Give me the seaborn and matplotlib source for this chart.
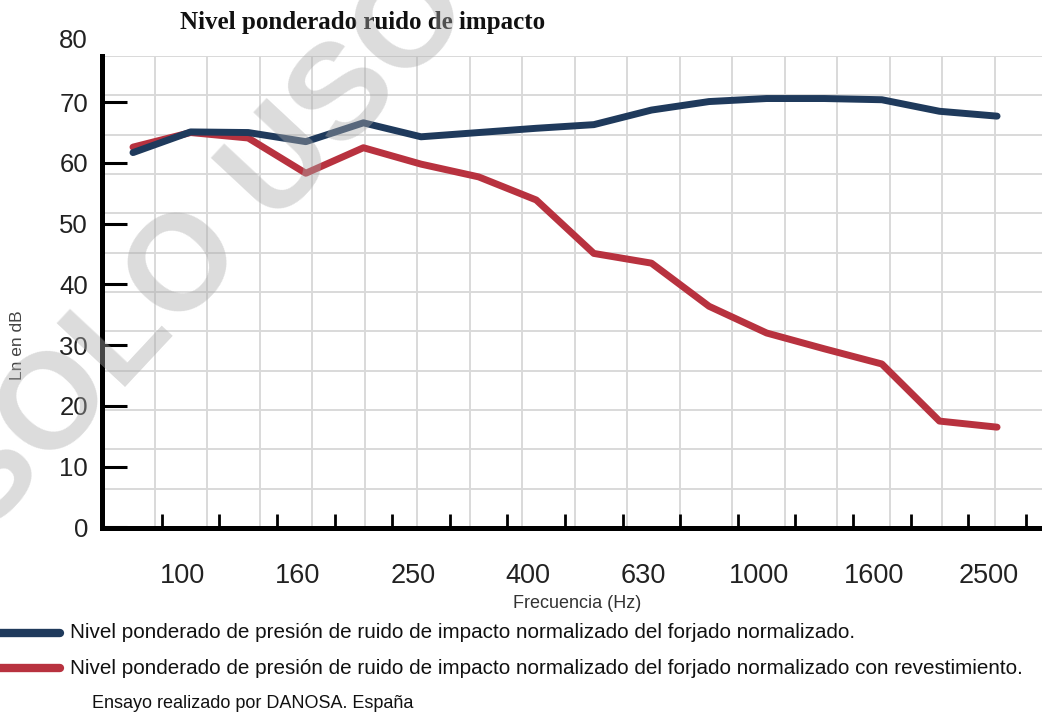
import numpy as np
import pandas as pd
import matplotlib
matplotlib.use("Agg")
import matplotlib.pyplot as plt
import seaborn as sns
from matplotlib.lines import Line2D
from matplotlib.transforms import ScaledTranslation

# bandas de tercio de octava (Hz)
frecuencias = ["80", "100", "125", "160", "200", "250", "315", "400",
               "500", "630", "800", "1000", "1250", "1600", "2000", "2500"]
forjado = [61.7, 65.1, 65.0, 63.5, 66.6, 64.3, 65.0, 65.7,
           66.3, 68.7, 70.1, 70.6, 70.6, 70.4, 68.5, 67.7]
revestido = [62.6, 65.0, 64.1, 58.3, 62.5, 59.8, 57.7, 53.9,
             45.1, 43.5, 36.4, 32.0, 29.4, 26.9, 17.5, 16.5]
y_ticks = [0, 10, 20, 30, 40, 50, 60, 70]

txt_forjado = "Nivel ponderado de presión de ruido de impacto normalizado del forjado normalizado."
txt_revestido = "Nivel ponderado de presión de ruido de impacto normalizado del forjado normalizado con revestimiento."

azul = "#1f3a5c"
rojo = "#b8323f"

df = pd.DataFrame({"freq": frecuencias, txt_forjado: forjado, txt_revestido: revestido})
df_long = df.melt(id_vars="freq", var_name="serie", value_name="Ln")

sns.set_style("white")
plt.rcParams["font.family"] = ["Liberation Sans", "DejaVu Sans"]

W, H = 1042, 714
fig = plt.figure(figsize=(W / 100, H / 100), dpi=100)
rect = [102 / W, (H - 528) / H, 940 / W, 472 / H]

# cuadricula de fondo
bg = fig.add_axes(rect)
bg.set_xlim(0, 940 / 52.5)
bg.set_ylim(0, 12)
bg.set_xticks(range(18))
bg.set_yticks(range(13))
bg.grid(True, color="#d9d9d9", lw=1.4)
bg.tick_params(length=0, labelbottom=False, labelleft=False)
for s in bg.spines.values():
    s.set_visible(False)

ax = fig.add_axes(rect)
ax.patch.set_alpha(0)
sns.lineplot(data=df_long, x="freq", y="Ln", hue="serie",
             hue_order=[txt_revestido, txt_forjado],
             palette=[rojo, azul], linewidth=5, legend=False, ax=ax,
             solid_joinstyle="round", solid_capstyle="round")

ax.set_xlim(-0.538, 15.78)
ax.set_ylim(-0.1, 77.6)
ax.set_xlabel("")
ax.set_ylabel("")
for side in ["top", "right"]:
    ax.spines[side].set_visible(False)
for side in ["left", "bottom"]:
    ax.spines[side].set_color("black")
    ax.spines[side].set_linewidth(3.6)

ax.tick_params(which="both", left=True, bottom=True, color="black")

ax.set_yticks(y_ticks)
ax.tick_params(axis="y", direction="in", length=18, width=2.2,
               labelsize=18.5, pad=10, labelcolor="#222222")
ax.text(-0.0149, 80, "80", transform=ax.get_yaxis_transform(),
        ha="right", va="center", fontsize=18.5, color="#222222", clip_on=False)

ax.set_xticks(range(1, 16, 2), labels=frecuencias[1::2])
ax.set_xticks(np.arange(0.5, 16, 1), minor=True)
ax.tick_params(axis="x", which="major", length=0, pad=25,
               labelsize=19.5, labelcolor="#222222")
ax.tick_params(axis="x", which="minor", direction="in", length=10, width=2)
desplaza = ScaledTranslation(-0.08, 0, fig.dpi_scale_trans)
for lbl in ax.get_xticklabels():
    lbl.set_transform(lbl.get_transform() + desplaza)

fig.text(363 / W, 1 - 22 / H, "Nivel ponderado ruido de impacto",
         family=["Liberation Serif", "DejaVu Serif"], weight="bold",
         fontsize=18, ha="center", va="center", color="#111111")
fig.text(577 / W, 1 - 603 / H, "Frecuencia (Hz)", fontsize=13,
         ha="center", va="center", color="#333333")
fig.text(18 / W, 1 - 345 / H, "Ln en dB", fontsize=12.5, rotation=90,
         ha="center", va="center", color="#444444")

# leyenda bajo el grafico
for y_px, color, texto in [(633, azul, txt_forjado), (668, rojo, txt_revestido)]:
    fig.add_artist(Line2D([-0.01, 60 / W], [1 - y_px / H] * 2,
                          transform=fig.transFigure, color=color, lw=6,
                          solid_capstyle="round"))
    fig.text(70 / W, 1 - y_px / H, texto, fontsize=14.9, ha="left",
             va="center", color="#111111")
fig.text(92 / W, 1 - 704 / H, "Ensayo realizado por DANOSA. España",
         fontsize=13, ha="left", va="center", color="#111111")

# marca de agua
fig.text(205 / W, 1 - 250 / H, "SOLO USO", fontsize=98, weight="bold",
         rotation=47, color="#ababab", alpha=0.42, ha="center", va="center",
         zorder=10)

fig.savefig("out.png", dpi=100)
